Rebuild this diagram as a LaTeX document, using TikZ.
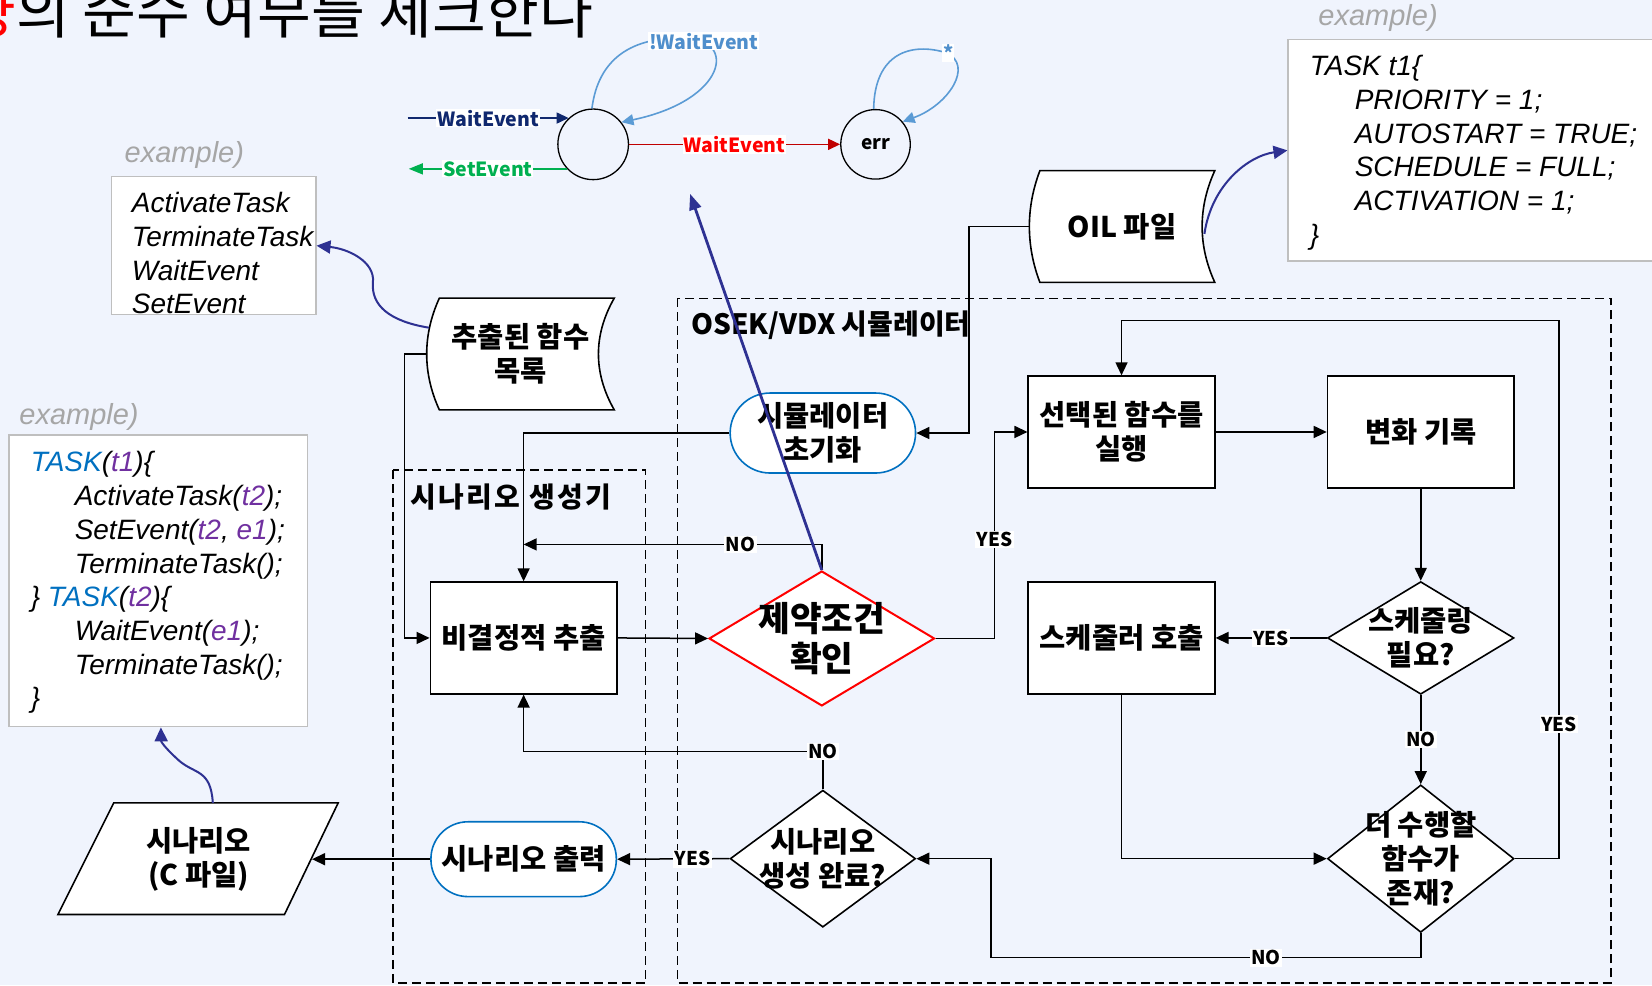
\documentclass[tikz,border=0pt]{standalone}
\usepackage{fontspec}
\setmainfont{Liberation Sans}
\newfontfamily\kr{Noto Sans CJK KR}
\newfontfamily\arial{Liberation Sans}
\usetikzlibrary{shapes.geometric,arrows.meta,calc}
\definecolor{bg}{RGB}{240,244,253}
\definecolor{navy}{RGB}{46,49,146}
\definecolor{darknavy}{RGB}{16,40,110}
\definecolor{lblue}{RGB}{91,155,213}
\definecolor{lbluetxt}{RGB}{79,143,204}
\definecolor{sgreen}{RGB}{0,176,80}
\definecolor{dred}{RGB}{192,0,0}
\definecolor{bred}{RGB}{255,0,0}
\definecolor{sblue}{RGB}{0,112,192}
\definecolor{tpurple}{RGB}{112,48,160}
\definecolor{exgray}{RGB}{166,166,166}
\definecolor{boxgray}{RGB}{191,191,191}
\begin{document}
\begin{tikzpicture}[x=1.0536pt,y=-1.0536pt,
  nodefont/.style={font=\kr\bfseries\fontsize{28.5pt}{34pt}\selectfont, align=center},
  proc/.style={nodefont, draw=black, line width=1.6pt, fill=white, rectangle, minimum width=186.5pt, minimum height=111.7pt, inner sep=0pt},
  stad/.style={nodefont, draw=sblue, line width=1.6pt, fill=white, rectangle, rounded corners=40pt, minimum width=185.4pt, minimum height=80pt, inner sep=0pt},
  dia/.style={diamond, draw=black, line width=1.6pt, fill=white, inner sep=0pt},
  txt/.style={nodefont, inner sep=0pt},
  conn/.style={draw=black, line width=1.5pt, -{Triangle[length=13pt,width=12pt]}},
  lbl/.style={fill=white, inner sep=1.5pt, font=\kr\bfseries\fontsize{19pt}{20pt}\selectfont},
  grp/.style={draw=black, line width=1.3pt, dash pattern=on 9pt off 5pt},
  grplbl/.style={font=\kr\bfseries\fontsize{28pt}{30pt}\selectfont, anchor=west, inner sep=0pt},
  exlbl/.style={font=\arial\itshape\fontsize{29pt}{32pt}\selectfont, text=exgray, inner sep=0pt},
  exbox/.style={draw=boxgray, line width=1.5pt, fill=white, rectangle, anchor=north west, inner sep=0pt},
  codetxt/.style={font=\arial\itshape\fontsize{28pt}{33.7pt}\selectfont, align=left, anchor=north west, inner sep=0pt},
  curv/.style={draw=navy, line width=2pt, -{Triangle[length=14pt,width=13pt]}},
  smlbl/.style={fill=white, inner sep=1pt, font=\kr\bfseries\fontsize{19.5pt}{21pt}\selectfont},
  selfloop/.style={draw=lblue, line width=1.6pt, -{Triangle[length=12pt,width=11pt]}},
  shp/.style={draw=black, line width=1.6pt, fill=white}
]
\useasboundingbox (0,0) rectangle (1568,935);
\fill[bg] (0,0) rectangle (1568,935);

% title
\node[anchor=base west, inner sep=0pt, font=\kr\fontsize{58.5pt}{64pt}\selectfont] (title) at (-36,32) {\textcolor{bred}{양}의 준수 여부를 체크한다};

% group boxes
\draw[grp] (373,446) rectangle (613,933);
\draw[grp] (643,283) rectangle (1529,933);
\node[grplbl] (g1) at (389,472) {시\kern2.5pt 나\kern2.5pt 리\kern2.5pt 오\kern2.5pt\ 생\kern2.5pt 성\kern2.5pt 기};
\node[grplbl] (g2) at (656,309) {OSEK/VDX 시뮬레이터};

% example boxes
\node[exlbl] (ex1) at (1308,17) {example)};
\node[exlbl] (ex2) at (175,147) {example)};
\node[exlbl] (ex3) at (75,396) {example)};
\node[exbox, minimum width=377pt, minimum height=221.3pt] (trbox) at (1222,37) {};
\node[exbox, minimum width=204.4pt, minimum height=138pt] (tlbox) at (105,167) {};
\node[exbox, minimum width=298.2pt, minimum height=291.8pt] (blbox) at (8,412) {};
\node[codetxt] (trtext) at (1243,52.5) {TASK t1\{\\
\hspace*{45pt}PRIORITY = 1;\\
\hspace*{45pt}AUTOSTART = TRUE;\\
\hspace*{45pt}SCHEDULE = FULL;\\
\hspace*{45pt}ACTIVATION = 1;\\
\}};
\node[codetxt] (tltext) at (125,182.5) {ActivateTask\\TerminateTask\\WaitEvent\\SetEvent};
\node[codetxt] (bltext) at (29,428.5) {\textcolor{sblue}{TASK}(\textcolor{tpurple}{t1})\{\\
\hspace*{44pt}ActivateTask(\textcolor{tpurple}{t2});\\
\hspace*{44pt}SetEvent(\textcolor{tpurple}{t2}, \textcolor{tpurple}{e1});\\
\hspace*{44pt}TerminateTask();\\
\} \textcolor{sblue}{TASK}(\textcolor{tpurple}{t2})\{\\
\hspace*{44pt}WaitEvent(\textcolor{tpurple}{e1});\\
\hspace*{44pt}TerminateTask();\\
\}};

% state machine
\node[circle, draw=black, line width=1.3pt, minimum size=70.6pt, inner sep=0pt] (c1) at (563,137) {};
\node[circle, draw=black, line width=1.3pt, minimum size=69.5pt, inner sep=0pt, font=\kr\bfseries\fontsize{19pt}{20pt}\selectfont] (err) at (831,137) {err};
\coordinate (win) at (387,112);
\coordinate (sout) at (388,159);
\draw[draw=darknavy, line width=1.5pt, -{Triangle[length=12pt,width=11pt]}] (c1.133 -| win) -- node[smlbl, text=darknavy] (lw1) {WaitEvent} (c1.133);
\draw[draw=sgreen, line width=1.5pt, -{Triangle[length=14pt,width=11pt]}] (c1.223) -- node[smlbl, text=sgreen] (lse) {SetEvent} (c1.223 -| sout);
\draw[draw=dred, line width=1.5pt, -{Triangle[length=12pt,width=11pt]}] (c1.east) -- node[smlbl, text=bred] (lw2) {WaitEvent} (err.west);
\draw[selfloop] (c1.92) .. controls (568,55) and (600,35) .. (650,36) .. controls (700,37) and (690,95) .. (c1.38);
\node[smlbl, text=lbluetxt] (lnw) at (668,39) {!WaitEvent};
\draw[selfloop] (err.93) .. controls (830,50) and (865,40) .. (898,50) .. controls (925,62) and (900,100) .. (err.40);
\node[smlbl, text=lbluetxt] (lst) at (900,50) {*};

% stored data shapes
\draw[shp] (987,162) -- (1153,162) .. controls (1137,197) and (1137,233) .. (1153,268) -- (987,268) .. controls (973.7,233) and (973.7,197) .. (987,162) -- cycle;
\node[txt, minimum width=185.4pt, minimum height=111.7pt] (oil) at (1065,215) {OIL 파일};
\draw[shp] (417,283) -- (583,283) .. controls (563,318) and (563,354) .. (583,389) -- (417,389) .. controls (401,354) and (401,318) .. (417,283) -- cycle;
\node[txt, minimum width=187.5pt, minimum height=111.7pt] (ext) at (494,336) {추출된 함수\\목록};
\draw[shp] (108,762) -- (321,762) -- (270,868) -- (55,868) -- cycle;
\node[txt, minimum width=226.5pt] (scen) at (188.5,815.5) {시나리오\\(C 파일)};

% flowchart nodes
\node[proc] (nd) at (497,605.5) {비결정적 추출};
\node[stad] (sim) at (781,411) {시뮬레이터\\초기화};
\node[proc] (sel) at (1064.5,410) {선택된 함수를\\실행};
\node[proc] (rec) at (1348.5,410) {변화 기록};
\node[proc] (sch) at (1064.5,605.5) {스케줄러 호출};
\node[stad, minimum height=74.8pt, rounded corners=37pt] (out) at (497,815.5) {시나리오 출력};
\node[dia, draw=bred, line width=2pt, minimum width=225.5pt, minimum height=134.9pt] (cc) at (780,606) {};
\node[txt, font=\kr\bfseries\fontsize{34.5pt}{40pt}\selectfont] (cct) at (cc) {제약조건\\확인};
\node[dia, minimum width=186.5pt, minimum height=112.7pt] (sn) at (1348.5,605.5) {};
\node[txt] (snt) at (sn) {스케줄링\\필요?};
\node[dia, minimum width=186.5pt, minimum height=147.5pt] (more) at (1348.5,815) {};
\node[txt] (moret) at (more) {더 수행할\\함수가\\존재?};
\node[dia, minimum width=185.4pt, minimum height=137pt] (done) at (781,815) {};
\node[txt] (donet) at (done) {시나리오\\생성 완료?};

% connectors
\draw[conn] (oil.west) -- ++(-57,0) |- (sim.east);
\draw[conn] (sim.west) -| (nd.north);
\draw[conn] (ext.west) -- ++(-21,0) |- (nd.west);
\draw[conn] (nd.east) -- (cc.west);
\draw[conn] (cc.north) |- node[lbl, pos=0.636] (l1) {NO} ($(nd.north)+(0,-35)$);
\draw[conn] (cc.east) -- ++(56,0) |- node[lbl, pos=0.24] (l2) {YES} (sel.west);
\draw[conn] (sel.east) -- (rec.west);
\draw[conn] (rec.south) -- (sn.north);
\draw[conn] (sn.west) -- node[lbl] (l3) {YES} (sch.east);
\draw[conn] (sn.south) -- node[lbl] (l4) {NO} (more.north);
\draw[conn] (sch.south) |- (more.west);
\draw[conn] (more.east) -- ++(42,0) -- ++(0,-511) node[lbl, pos=0.25] (l5) {YES} -| (sel.north);
\draw[conn] (more.south) |- node[lbl, pos=0.68] (l6) {NO} ($(done.east)+(71,94)$) |- (done.east);
\draw[conn] (done.north) |- node[lbl, pos=0.5] (l7) {NO} ($(nd.south)+(0,54)$) -- (nd.south);
\draw[conn] (done.west) -- node[lbl, pos=0.33] (l8) {YES} (out.east);
\draw[conn] (out.west) -- (scen.east);

% curved annotation arrows
\draw[curv] ($(oil.east)+(-10,7)$) .. controls (1150,175) and (1185,148) .. (trbox.west);
\draw[curv] (407,311) .. controls (370,305) and (352,290) .. (354,268) .. controls (356,248) and (330,236) .. (tlbox.east);
\draw[curv] (202,762) .. controls (200,730) and (185,735) .. (170,722) .. controls (160,713) and (153,705) .. ($(blbox.south)+(2.5,0)$);

% diagonal
\coordinate (diagtip) at (655,184);
\draw[draw=navy, line width=2.8pt, -{Triangle[length=16pt,width=12pt]}] (cc.north) -- (diagtip);
\end{tikzpicture}
\end{document}
